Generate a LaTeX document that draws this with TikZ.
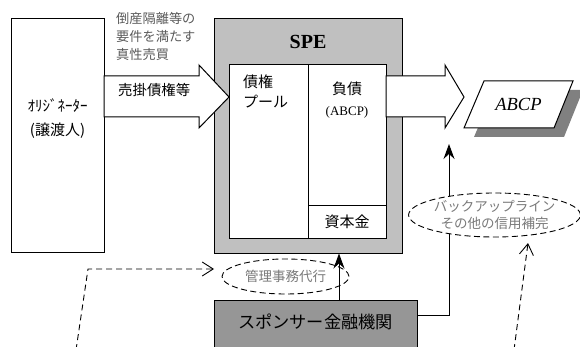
\documentclass[tikz,border=0pt]{standalone}
\usepackage{fontspec}
\setmainfont{Liberation Serif}
\newfontfamily\jp{Noto Sans CJK JP}
\usetikzlibrary{arrows.meta,shapes.geometric,calc}
\definecolor{spegray}{HTML}{C0C0C0}
\definecolor{sponsorgray}{HTML}{969696}
\definecolor{shadowgray}{HTML}{808080}
\definecolor{notegray}{HTML}{5A5A5A}
\definecolor{ovalgray}{HTML}{7A7A7A}
\begin{document}
\begin{tikzpicture}[x=1pt,y=-1pt,
  box/.style={draw, line width=1pt, inner sep=0pt},
  blockarrow/.style={draw, fill=white, line width=1pt, line join=miter},
  dashline/.style={dash pattern=on 6pt off 4pt, line width=0.9pt},
  openhead/.style={-{Straight Barb[length=11pt,width=14pt,line width=0.9pt]}},
  solidhead/.style={-{Stealth[length=15pt,width=11pt,inset=5pt]}, line width=1pt},
  ovalnote/.style={ellipse, draw, fill=white, dash pattern=on 6pt off 3.5pt,
    line width=0.9pt, inner sep=0pt, text=ovalgray, align=center,
    font=\jp\fontsize{13.5}{17}\selectfont},
  jptext/.style={inner sep=0pt, font=\jp\fontsize{15}{17}\selectfont},
  graytext/.style={inner sep=0pt, anchor=west, text=notegray, font=\jp\fontsize{13.2}{16}\selectfont}
]
\useasboundingbox (0,0) rectangle (580,347);

% originator
\node[box, fill=white, minimum width=93pt, minimum height=233pt] (orig) at (57.5,135.5) {};
\node[inner sep=0pt, font=\jp\fontsize{15}{17}\selectfont] (origA) at (57.5,106) {ｵﾘｼﾞﾈｰﾀｰ};
\node[inner sep=0pt, font=\jp\fontsize{15}{17}\selectfont] (origB) at (57.5,131) {(譲渡人)};

% notes above arrow
\node[graytext] (n1) at (116,18) {倒産隔離等の};
\node[graytext] (n2) at (116,37) {要件を満たす};
\node[graytext] (n3) at (116,55) {真性売買};

% SPE
\node[box, fill=spegray, minimum width=188pt, minimum height=234pt] (spe) at (308,136) {};
\node[inner sep=0pt, font=\bfseries\fontsize{20}{22}\selectfont] (spelbl) at (308,42) {SPE};
\node[box, fill=white, minimum width=157pt, minimum height=173pt] (inner) at (307.5,151.5) {};
\coordinate (divx) at (308,0);
\coordinate (capy) at (0,206);
\draw[line width=1pt] (inner.north -| divx) -- (inner.south -| divx);
\draw[line width=1pt] (divx |- capy) -- (inner.east |- capy);
\node[jptext, anchor=west] (pool1) at (243,82) {債権};
\node[jptext, anchor=west] (pool2) at (243,102) {プール};
\node[jptext] (debt) at (347,89) {負債};
\node[inner sep=0pt, font=\fontsize{13}{15}\selectfont] (debtb) at (347,112) {(ABCP)};
\node[jptext] (cap) at (347,222) {資本金};

% block arrows
\draw[blockarrow] (104,76) -- (199,76) -- (199,65) -- (229,97) -- (199,128) -- (199,117) -- (104,117) -- cycle;
\node[inner sep=0pt, anchor=west, font=\jp\fontsize{14.4}{17}\selectfont] (sales) at (118,90) {売掛債権等};
\draw[blockarrow] (386,76) -- (445,76) -- (445,65) -- (464,97) -- (445,128) -- (445,117) -- (386,117) -- cycle;

% ABCP parallelogram
\fill[shadowgray] (494,90) -- (583,90) -- (564,137) -- (474,137) -- cycle;
\draw[line width=1pt, fill=white, line join=miter] (484,81) -- (573,81) -- (554,128) -- (464,128) -- cycle;
\node[inner sep=0pt, font=\itshape\fontsize{18.5}{20}\selectfont] (abcp) at (518.5,104.5) {ABCP};

% sponsor
\node[box, fill=sponsorgray, minimum width=203pt, minimum height=48pt] (sponsor) at (315.5,324) {};
\node[inner sep=0pt, font=\jp\fontsize{17.2}{19}\selectfont] (sponsorlbl) at (315.5,322) {スポンサー金融機関};

% backup line arrow (behind the oval)
\coordinate (bl) at (449,315);
\coordinate (bltip) at (449,144);
\draw[solidhead] (sponsor.east |- bl) -- (bl) -- (bltip);

% ovals
\node[ovalnote, minimum width=159pt, minimum height=44pt] (backup) at (494.5,215)
  {バックアップライン\\その他の信用補完};
\node[ovalnote, minimum width=127pt, minimum height=35pt] (mgmt) at (285.5,276.5) {管理事務代行};

% arrow from sponsor to SPE
\coordinate (upx) at (339,0);
\draw[solidhead] (sponsor.north -| upx) -- (spe.south -| upx);

% dashed arrows
\coordinate (dl0) at (76,350);
\coordinate (dl1) at (88,269);
\coordinate (dl2) at (214,269);
\draw[dashline, openhead] (dl0) -- (dl1) -- (dl2);
\coordinate (dr0) at (514,350);
\coordinate (dr1) at (528,243);
\draw[dashline, openhead] (dr0) -- (dr1);
\end{tikzpicture}
\end{document}
